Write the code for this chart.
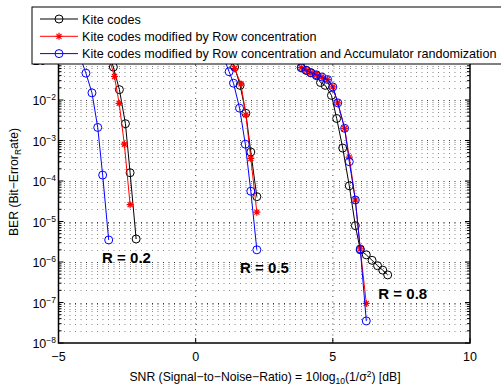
<!DOCTYPE html>
<html>
<head>
<meta charset="utf-8">
<script src="https://cdn.jsdelivr.net/npm/d3@7"></script>
<style>
  body { margin: 0; background: #fff; }
  svg { display: block; font-family: 'Liberation Sans', Arial, sans-serif; }
</style>
</head>
<body>
<div id="chart"></div>
<script>
// R = 0.2
const kiteSnr02 = [-3.15, -3.0, -2.78, -2.56, -2.39, -2.17]
const kiteBer02 = [0.13, 6.5e-2, 1.8e-2, 2.6e-3, 1.6e-4, 3.7e-6]
const rowSnr02 = [-3.2, -2.96, -2.79, -2.6, -2.39]
const rowBer02 = [0.14, 3.8e-2, 8.3e-3, 8.1e-4, 2.6e-5]
const accSnr02 = [-4.2, -4.0, -3.78, -3.57, -3.39, -3.17]
const accBer02 = [0.11, 4.6e-2, 1.5e-2, 2.1e-3, 1.4e-4, 3.5e-6]

// R = 0.5
const kiteSnr05 = [1.2, 1.42, 1.62, 1.83, 2.01, 2.23]
const kiteBer05 = [0.13, 6.5e-2, 2.3e-2, 4.7e-3, 5.2e-4, 4.1e-5]
const rowSnr05 = [1.2, 1.42, 1.65, 1.83, 2.01, 2.23]
const rowBer05 = [0.13, 6.0e-2, 2.5e-2, 4.3e-3, 3.6e-4, 1.7e-5]
const accSnr05 = [1.0, 1.22, 1.38, 1.6, 1.81, 2.01, 2.23]
const accBer05 = [0.12, 5.0e-2, 2.6e-2, 6.3e-3, 8.1e-4, 5.6e-5, 2.0e-6]

// R = 0.8
const kiteSnr08 = [3.85, 4.03, 4.2, 4.4, 4.55, 4.72, 4.95, 5.14, 5.36, 5.6, 5.82, 6.0, 6.22, 6.43, 6.63, 6.82, 7.0]
const kiteBer08 = [6.3e-2, 5.4e-2, 4.7e-2, 4.0e-2, 2.7e-2, 2.3e-2, 1.3e-2, 3.5e-3, 6.5e-4, 7.6e-5, 7.9e-6, 2.0e-6, 1.5e-6, 1.1e-6, 8.1e-7, 6.3e-7, 4.8e-7]
const rowSnr08 = [3.85, 4.03, 4.2, 4.4, 4.6, 4.81, 5.0, 5.18, 5.43, 5.6, 5.82, 6.0, 6.22]
const rowBer08 = [6.3e-2, 5.4e-2, 4.7e-2, 4.2e-2, 3.7e-2, 3.2e-2, 2.1e-2, 8.5e-3, 2.0e-3, 3.9e-4, 3.4e-5, 2.1e-6, 9.5e-8]
const accSnr08 = [3.85, 4.03, 4.2, 4.4, 4.6, 4.81, 5.0, 5.18, 5.43, 5.6, 5.82, 6.0, 6.22]
const accBer08 = [6.3e-2, 5.4e-2, 4.7e-2, 4.2e-2, 3.7e-2, 3.2e-2, 2.1e-2, 8.5e-3, 2.0e-3, 3.0e-4, 3.4e-5, 2.1e-6, 3.5e-8]

const legendLabels = [
  'Kite codes',
  'Kite codes modified by Row concentration',
  'Kite codes modified by Row concentration and Accumulator randomization'
]
const rateLabels = ['R = 0.2', 'R = 0.5', 'R = 0.8']
const xTicks = [-5, 0, 5, 10]
const yExponents = [-8, -7, -6, -5, -4, -3, -2, -1]

const width = 501
const height = 386
const plot = { left: 58.5, right: 470, top: 59.5, bottom: 343 }

const svg = d3
  .select('#chart')
  .append('svg')
  .attr('width', width)
  .attr('height', height)

const xPositionScale = d3
  .scaleLinear()
  .domain([-5, 10])
  .range([plot.left, plot.right])

const yPositionScale = d3
  .scaleLog()
  .domain([1e-8, 1e-1])
  .range([plot.bottom, plot.top])

svg
  .append('clipPath')
  .attr('id', 'plot-clip')
  .append('rect')
  .attr('x', plot.left)
  .attr('y', plot.top)
  .attr('width', plot.right - plot.left)
  .attr('height', plot.bottom - plot.top)

// grid: every log minor step, vertical only at major x ticks
const gridValues = []
yExponents.slice(0, -1).forEach(e => {
  for (let m = 1; m <= 9; m++) gridValues.push({ v: m * Math.pow(10, e), major: m === 1 })
})

const grid = svg.append('g').attr('class', 'grid')

grid
  .selectAll('.hgrid')
  .data(gridValues.filter(d => d.v > 1e-8))
  .enter()
  .append('line')
  .attr('x1', plot.left)
  .attr('x2', plot.right)
  .attr('y1', d => Math.round(yPositionScale(d.v)) + 0.5)
  .attr('y2', d => Math.round(yPositionScale(d.v)) + 0.5)
  .attr('stroke', d => (d.major ? '#333' : '#888'))
  .attr('stroke-width', 1)
  .attr('stroke-dasharray', '1,4.5')

grid
  .selectAll('.vgrid')
  .data(xTicks.slice(1, -1))
  .enter()
  .append('line')
  .attr('x1', d => xPositionScale(d))
  .attr('x2', d => xPositionScale(d))
  .attr('y1', plot.top)
  .attr('y2', plot.bottom)
  .attr('stroke', '#444')
  .attr('stroke-dasharray', '1,4.5')

// ticks
const ticks = svg.append('g').attr('class', 'ticks').attr('stroke', '#000')
gridValues.forEach(d => {
  const yy = yPositionScale(d.v)
  const len = d.major ? 5 : 3
  ticks.append('line').attr('x1', plot.left).attr('x2', plot.left + len).attr('y1', yy).attr('y2', yy)
  ticks.append('line').attr('x1', plot.right).attr('x2', plot.right - len).attr('y1', yy).attr('y2', yy)
})
xTicks.forEach(t => {
  const xx = xPositionScale(t)
  ticks.append('line').attr('x1', xx).attr('x2', xx).attr('y1', plot.bottom).attr('y2', plot.bottom - 5)
  ticks.append('line').attr('x1', xx).attr('x2', xx).attr('y1', plot.top).attr('y2', plot.top + 5)
})

// series
const series = [
  { x: kiteSnr02, y: kiteBer02, color: '#000', marker: 'circle' },
  { x: kiteSnr05, y: kiteBer05, color: '#000', marker: 'circle' },
  { x: kiteSnr08, y: kiteBer08, color: '#000', marker: 'circle' },
  { x: rowSnr02, y: rowBer02, color: '#f00', marker: 'star' },
  { x: rowSnr05, y: rowBer05, color: '#f00', marker: 'star' },
  { x: rowSnr08, y: rowBer08, color: '#f00', marker: 'star' },
  { x: accSnr02, y: accBer02, color: '#00f', marker: 'circle' },
  { x: accSnr05, y: accBer05, color: '#00f', marker: 'circle' },
  { x: accSnr08, y: accBer08, color: '#00f', marker: 'circle' }
]

const line = d3
  .line()
  .x(d => xPositionScale(d[0]))
  .y(d => yPositionScale(d[1]))

const starPath = 'M-3.5,0H3.5M0,-3.5V3.5M-2.5,-2.5L2.5,2.5M-2.5,2.5L2.5,-2.5'

function drawMarker(g, type, color) {
  if (type === 'circle') {
    g.append('circle').attr('r', 4).attr('fill', 'none').attr('stroke', color).attr('stroke-width', 1)
  } else {
    g.append('path').attr('d', starPath).attr('fill', 'none').attr('stroke', color).attr('stroke-width', 1.2)
  }
}

const marks = svg.append('g').attr('clip-path', 'url(#plot-clip)')

series.forEach(s => {
  const pts = s.x.map((v, i) => [v, s.y[i]])
  const g = marks.append('g')
  g.append('path')
    .datum(pts)
    .attr('d', line)
    .attr('fill', 'none')
    .attr('stroke', s.color)
    .attr('stroke-width', 1)
  pts.forEach(p => {
    const m = g.append('g').attr('transform', 'translate(' + xPositionScale(p[0]) + ',' + yPositionScale(p[1]) + ')')
    drawMarker(m, s.marker, s.color)
  })
})

// rate labels
const ratePos = [[-3.41, 9.5e-7], [1.62, 5.4e-7], [6.66, 1.23e-7]]
svg
  .selectAll('.rate')
  .data(rateLabels)
  .enter()
  .append('text')
  .attr('x', (d, i) => xPositionScale(ratePos[i][0]))
  .attr('y', (d, i) => yPositionScale(ratePos[i][1]))
  .attr('font-size', 15)
  .attr('font-weight', 'bold')
  .text(d => d)

// axes box
svg
  .append('rect')
  .attr('x', plot.left)
  .attr('y', plot.top)
  .attr('width', plot.right - plot.left)
  .attr('height', plot.bottom - plot.top)
  .attr('fill', 'none')
  .attr('stroke', '#000')
  .attr('stroke-width', 1.5)

// x tick labels
svg
  .selectAll('.xlabel')
  .data(xTicks)
  .enter()
  .append('text')
  .attr('x', d => xPositionScale(d))
  .attr('y', 361)
  .attr('text-anchor', 'middle')
  .attr('font-size', 12.5)
  .text(d => (d < 0 ? '\u2212' + Math.abs(d) : d))

// y tick labels 10^e
yExponents.forEach(e => {
  const t = svg
    .append('text')
    .attr('x', 56)
    .attr('y', yPositionScale(Math.pow(10, e)) + 5)
    .attr('text-anchor', 'end')
    .attr('font-size', 12.5)
  t.append('tspan').text('10')
  t.append('tspan').attr('dy', -5).attr('font-size', 8.5).text('\u2212' + Math.abs(e))
})

// axis titles
const xTitle = svg
  .append('text')
  .attr('x', 265)
  .attr('y', 381)
  .attr('text-anchor', 'middle')
  .attr('font-size', 12.2)
xTitle.append('tspan').text('SNR (Signal\u2212to\u2212Noise\u2212Ratio) = 10log')
xTitle.append('tspan').attr('dy', 3).attr('font-size', 8.5).text('10')
xTitle.append('tspan').attr('dy', -3).text('(1/\u03c3')
xTitle.append('tspan').attr('dy', -4).attr('font-size', 8.5).text('2')
xTitle.append('tspan').attr('dy', 4).text(') [dB]')

const yTitle = svg
  .append('text')
  .attr('transform', 'translate(18,182) rotate(-90)')
  .attr('text-anchor', 'middle')
  .attr('font-size', 12.2)
yTitle.append('tspan').text('BER (Bit\u2212Error')
yTitle.append('tspan').attr('dy', 3).attr('font-size', 8.5).text('R')
yTitle.append('tspan').attr('dy', -3).text('ate)')

// legend
const legend = svg.append('g').attr('class', 'legend')
legend
  .append('rect')
  .attr('x', 32)
  .attr('y', 7)
  .attr('width', 490)
  .attr('height', 57)
  .attr('fill', '#fff')
  .attr('stroke', '#000')
  .attr('stroke-width', 1)

const legendColors = ['#000', '#f00', '#00f']
const legendMarkers = ['circle', 'star', 'circle']
legendLabels.forEach((label, i) => {
  const yy = 19 + i * 17.3
  legend.append('line').attr('x1', 40).attr('x2', 78).attr('y1', yy).attr('y2', yy).attr('stroke', legendColors[i])
  const m = legend.append('g').attr('transform', 'translate(59,' + yy + ')')
  drawMarker(m, legendMarkers[i], legendColors[i])
  legend
    .append('text')
    .attr('x', 82)
    .attr('y', yy + 4.5)
    .attr('font-size', 12.6)
    .text(label)
})
</script>
</body>
</html>
